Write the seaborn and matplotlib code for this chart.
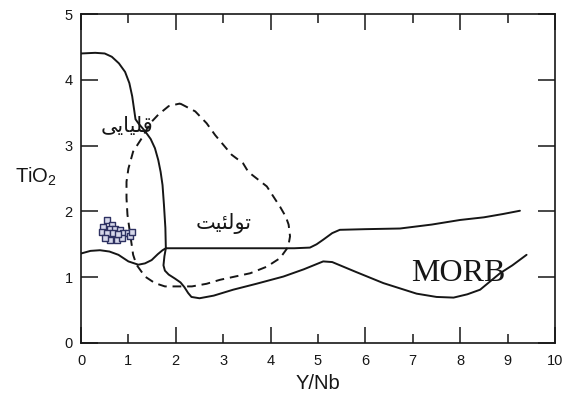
import numpy as np
import pandas as pd
import matplotlib
matplotlib.use("Agg")
import matplotlib.pyplot as plt
from matplotlib.ticker import FixedLocator, FuncFormatter
import seaborn as sns

# ---------------- data ----------------
# sample points (Y/Nb, TiO2)
sample_x = [0.54, 0.65, 0.47, 0.61, 0.44, 0.72, 0.54, 0.68, 0.82, 0.89, 1.00,
            0.61, 0.75, 0.86, 1.03, 1.07, 0.51, 0.78]
sample_y = [1.87, 1.80, 1.76, 1.74, 1.69, 1.74, 1.67, 1.67, 1.72, 1.67, 1.67,
            1.57, 1.57, 1.59, 1.62, 1.69, 1.59, 1.65]

# alkaline boundary continuing into lower MORB boundary (solid)
alk_x = [0.0, 0.3, 0.50, 0.65, 0.80, 0.93, 1.02, 1.08, 1.12, 1.15, 1.22, 1.35,
         1.47, 1.56, 1.63, 1.68, 1.72, 1.75, 1.78, 1.79, 1.76, 1.74, 1.77, 1.85,
         1.98, 2.10, 2.18, 2.26, 2.33, 2.50, 2.80, 3.21, 3.70, 4.27, 4.70, 5.11,
         5.30, 5.80, 6.38, 7.08, 7.50, 7.86, 8.15, 8.42, 8.84, 9.10, 9.40]
alk_y = [4.40, 4.41, 4.40, 4.35, 4.25, 4.12, 3.95, 3.75, 3.55, 3.40, 3.33, 3.22,
         3.10, 2.96, 2.78, 2.60, 2.40, 2.10, 1.75, 1.44, 1.32, 1.18, 1.10, 1.04,
         0.98, 0.92, 0.85, 0.76, 0.70, 0.68, 0.72, 0.81, 0.90, 1.01, 1.12, 1.24,
         1.23, 1.08, 0.91, 0.75, 0.70, 0.69, 0.74, 0.81, 1.06, 1.18, 1.34]

# upper MORB boundary (solid)
morb_x = [1.79, 2.50, 3.50, 4.50, 4.83, 4.97, 5.11, 5.30, 5.46, 6.00, 6.73,
          7.40, 8.00, 8.50, 8.90, 9.26]
morb_y = [1.44, 1.44, 1.44, 1.44, 1.45, 1.50, 1.57, 1.67, 1.72, 1.73, 1.74,
          1.80, 1.87, 1.91, 1.96, 2.01]

# lower-left boundary (solid)
low_x = [0.0, 0.2, 0.40, 0.60, 0.79, 1.00, 1.21, 1.35, 1.49, 1.62, 1.72, 1.79]
low_y = [1.36, 1.40, 1.41, 1.39, 1.34, 1.24, 1.19, 1.21, 1.26, 1.35, 1.41, 1.44]

# tholeiite field (dashed, closed)
thol_x = [2.09, 2.41, 2.65, 2.83, 3.18, 3.42, 3.53, 3.92, 4.10, 4.20, 4.32, 4.38,
          4.41, 4.37, 4.20, 3.92, 3.57, 2.93, 2.65, 2.34, 1.77, 1.56, 1.35, 1.17,
          1.10, 1.03, 0.98, 0.96, 0.96, 1.00, 1.10, 1.28, 1.46, 1.63, 1.85, 2.09]
thol_y = [3.64, 3.52, 3.34, 3.16, 2.86, 2.73, 2.60, 2.38, 2.18, 2.07, 1.92, 1.80,
          1.62, 1.46, 1.29, 1.16, 1.06, 0.96, 0.90, 0.86, 0.86, 0.91, 1.01, 1.19,
          1.34, 1.69, 1.95, 2.20, 2.45, 2.65, 2.91, 3.11, 3.34, 3.47, 3.60, 3.64]

x_major = [0, 2, 4, 6, 8, 10]
x_minor = [1, 3, 5, 7, 9]
y_ticks = [0, 1, 2, 3, 4, 5]

# field labels (Persian, in shaped presentation forms, visual order)
label_alkaline = "\uFBFD\uFBFE\uFE8E\uFBFF\uFEE0\uFED7"   # قلیایی
label_tholeiite = "\uFE96\uFBFF\uFE8C\uFEDF\uFEEE\uFE97"  # تولئیت
label_morb = "MORB"

# ---------------- plot ----------------
sns.set_style("white")
plt.rcParams["font.family"] = ["Liberation Sans", "DejaVu Sans"]
plt.rcParams["mathtext.fontset"] = "custom"
plt.rcParams["mathtext.rm"] = "Liberation Sans"
plt.rcParams["mathtext.it"] = "Liberation Sans"

fig = plt.figure(figsize=(5.73, 4.01), dpi=100)
ax = fig.add_axes([81 / 573, 58 / 401, 474 / 573, 329 / 401])

ink = "#161616"

def draw(xs, ys, dashed=False):
    df = pd.DataFrame({"x": xs, "y": ys})
    ls = (0, (4.5, 3.0)) if dashed else "-"
    sns.lineplot(data=df, x="x", y="y", sort=False, estimator=None, ax=ax,
                 color=ink, linewidth=1.4, linestyle=ls)

draw(alk_x, alk_y)
draw(morb_x, morb_y)
draw(low_x, low_y)
draw(thol_x, thol_y, dashed=True)

pts = pd.DataFrame({"x": sample_x, "y": sample_y})
sns.scatterplot(data=pts, x="x", y="y", ax=ax, marker="s", s=22,
                facecolor="#d6d8ea", edgecolor="#2e3262", linewidth=1.0,
                zorder=5)

ax.text(0.98, 3.30, label_alkaline, fontsize=15, family=["DejaVu Sans"],
        ha="center", va="center", color=ink)
ax.text(3.0, 1.82, label_tholeiite, fontsize=15, family=["DejaVu Sans"],
        ha="center", va="center", color=ink)
ax.text(7.95, 1.06, label_morb, fontsize=23, family=["Liberation Serif"],
        ha="center", va="center", color=ink)

ax.set_xlim(0, 10)
ax.set_ylim(0, 5)
ax.xaxis.set_major_locator(FixedLocator(x_major))
ax.xaxis.set_minor_locator(FixedLocator(x_minor))
ax.xaxis.set_minor_formatter(FuncFormatter(lambda v, p: f"{int(round(v))}"))
ax.xaxis.set_major_formatter(FuncFormatter(lambda v, p: f"{int(round(v))}"))
ax.yaxis.set_major_locator(FixedLocator(y_ticks))
ax.yaxis.set_major_formatter(FuncFormatter(lambda v, p: f"{int(round(v))}"))

ax.tick_params(axis="x", which="major", direction="in", length=11.5, width=1.1,
               top=True, bottom=True, color=ink, labelsize=10.5, pad=8,
               labelcolor=ink)
ax.tick_params(axis="x", which="minor", direction="in", length=6.5, width=1.1,
               top=True, bottom=True, color=ink, labelsize=10.5, pad=8,
               labelcolor=ink)
ax.tick_params(axis="y", which="major", direction="in", length=12.5, width=1.1,
               left=True, right=True, color=ink, labelsize=10.5, pad=6,
               labelcolor=ink)

for s in ax.spines.values():
    s.set_linewidth(1.2)
    s.set_color(ink)
    s.set_visible(True)

ax.set_xlabel("Y/Nb", fontsize=14.5, color=ink, labelpad=4)
ax.set_ylabel("TiO$_2$", fontsize=14.5, color=ink, rotation=0)
ax.yaxis.set_label_coords(-0.095, 0.47)

fig.savefig("out.png", dpi=100)
